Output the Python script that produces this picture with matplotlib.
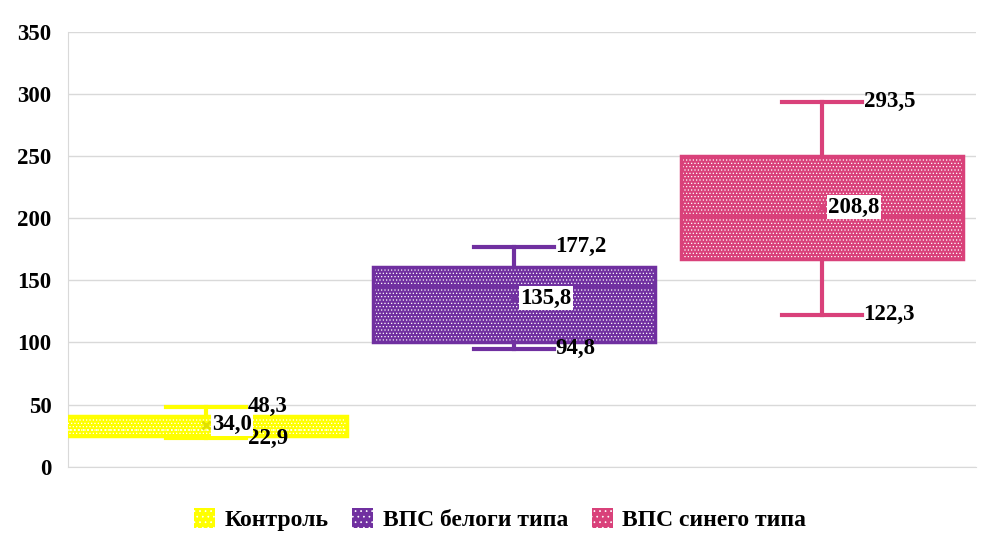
import matplotlib
matplotlib.use("Agg")
import matplotlib.pyplot as plt
from matplotlib.patches import Patch

series = ["Контроль", "ВПС белоги типа", "ВПС синего типа"]
whislo = [22.9, 94.8, 122.3]
q1 = [25.0, 100.6, 167.3]
med = [29.5, 144.8, 201.9]
q3 = [40.5, 160.9, 250.2]
whishi = [48.3, 177.2, 293.5]
means = [34.0, 135.8, 208.8]
colors = ["#FFFF00", "#7030A0", "#D9417A"]
mean_colors = ["#E0E000", "#7030A0", "#D9417A"]

plt.rcParams['font.family'] = ['Liberation Serif', 'DejaVu Serif']
plt.rcParams['font.weight'] = 'bold'
plt.rcParams['hatch.linewidth'] = 0.5

fig = plt.figure(figsize=(10, 5.46), dpi=100)
ax = fig.add_axes([0.068, 0.145, 0.908, 0.797])

def fmt(v):
    return f"{v:.1f}".replace(".", ",")

FS = 16.5
positions = [0, 1, 2]
for i in range(3):
    st = [dict(whislo=whislo[i], q1=q1[i], med=med[i], q3=q3[i],
               whishi=whishi[i], mean=means[i], fliers=[])]
    c = colors[i]
    ax.bxp(st, positions=[positions[i]], widths=0.916, patch_artist=True,
           showmeans=False, showfliers=False, manage_ticks=False,
           boxprops=dict(facecolor=c, edgecolor="white", hatch=".....", linewidth=0),
           whiskerprops=dict(color=c, linewidth=3),
           capprops=dict(color=c, linewidth=3),
           capwidths=0.26,
           medianprops=dict(linewidth=0),
           zorder=3)
    ax.bxp(st, positions=[positions[i]], widths=0.916, patch_artist=True,
           showmeans=True, meanline=False, showfliers=False, showcaps=False,
           manage_ticks=False,
           boxprops=dict(facecolor="none", edgecolor=c, linewidth=2.5),
           whiskerprops=dict(linewidth=0),
           medianprops=dict(color=c if i > 0 else "white",
                            linewidth=3 if i > 0 else 1.2,
                            linestyle="-" if i > 0 else ":"),
           meanprops=dict(marker="x", markeredgecolor=mean_colors[i], markersize=6,
                          markeredgewidth=2),
           zorder=4)
    x = positions[i]
    ax.text(x + 0.135, whishi[i], fmt(whishi[i]), fontsize=FS, fontweight="bold",
            va="center", ha="left", zorder=6)
    ax.text(x + 0.135, whislo[i], fmt(whislo[i]), fontsize=FS, fontweight="bold",
            va="center", ha="left", zorder=6)
    ax.text(x + 0.02, means[i], fmt(means[i]), fontsize=FS, fontweight="bold",
            va="center", ha="left", zorder=6,
            bbox=dict(facecolor="white", edgecolor="none", pad=1))

ax.set_xlim(-0.448, 2.5)
ax.set_ylim(0, 350)
ax.set_yticks(range(0, 351, 50))
ax.set_xticks([])
ax.tick_params(axis="y", length=0, labelsize=FS, pad=12)
for lab in ax.get_yticklabels():
    lab.set_fontweight("bold")
ax.grid(axis="y", color="#D9D9D9", linewidth=1)
ax.set_axisbelow(True)
for s in ["top", "right"]:
    ax.spines[s].set_visible(False)
ax.spines["left"].set_color("#D9D9D9")
ax.spines["bottom"].set_color("#D9D9D9")

handles = [Patch(facecolor=colors[i], edgecolor="white", hatch="...", linewidth=0,
                 label=series[i]) for i in range(3)]
fig.legend(handles=handles, loc="lower center", bbox_to_anchor=(0.5, -0.012), ncol=3,
           frameon=False, prop=dict(size=17, weight="bold"),
           handlelength=0.9, handleheight=0.9, handletextpad=0.4, columnspacing=1.0)

fig.savefig("out.png", dpi=100)
